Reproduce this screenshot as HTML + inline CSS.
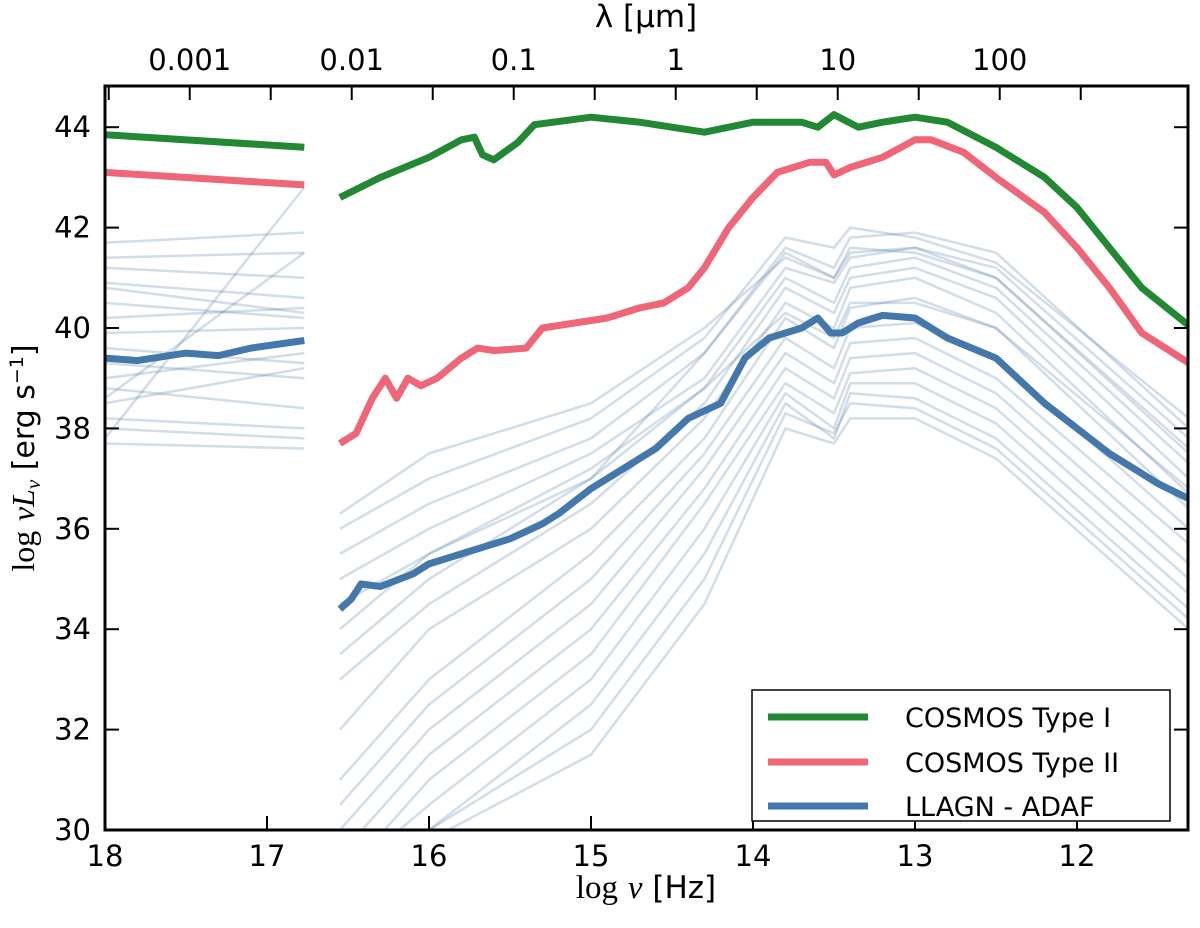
<!DOCTYPE html>
<html><head><meta charset="utf-8"><style>
body{margin:0;background:#fff}
text{font-family:"DejaVu Sans","Liberation Sans",sans-serif}
</style></head><body>
<svg id="chart" width="1200" height="923" xmlns="http://www.w3.org/2000/svg">
<defs><clipPath id="clip"><rect x="105" y="86" width="1083" height="744"/></clipPath></defs>
<g id="plot" clip-path="url(#clip)"></g>
<g id="axes"></g>
<text x="646" y="27" font-size="31" text-anchor="middle">λ [μm]</text>
<text x="646" y="898" font-size="31" text-anchor="middle"><tspan font-family="Liberation Serif" font-size="33">log</tspan> <tspan font-family="Liberation Serif" font-style="italic" font-size="33">ν</tspan> [Hz]</text>
<text transform="translate(34,458) rotate(-90)" font-size="30" text-anchor="middle"><tspan font-family="Liberation Serif" font-size="32">log</tspan> <tspan font-family="Liberation Serif" font-style="italic" font-size="32">νL</tspan><tspan font-family="Liberation Serif" font-style="italic" font-size="21" dy="6">ν</tspan><tspan dy="-6"> [erg s</tspan><tspan font-size="19" dy="-11">−1</tspan><tspan dy="11">]</tspan></text>
<g>
<rect x="752" y="690" width="418" height="131" fill="#fff" stroke="#000" stroke-width="1.5"/>
<line x1="768" x2="868" y1="717" y2="717" stroke="#228833" stroke-width="7"/>
<text x="905" y="727" font-size="27">COSMOS Type I</text>
<line x1="768" x2="868" y1="762" y2="762" stroke="#ee6677" stroke-width="7"/>
<text x="905" y="772" font-size="27">COSMOS Type II</text>
<line x1="768" x2="868" y1="806" y2="806" stroke="#4477aa" stroke-width="7"/>
<text x="905" y="816" font-size="27">LLAGN - ADAF</text>
</g>
</svg>
<script>
const greyFreqs=[16.55,16.0,15.0,14.3,13.8,13.5,13.4,13.0,12.5,11.31];
const greyRows=[
[35.5,36.5,37.8,39.5,41.6,41.2,41.8,41.9,41.5,38.0],
[36,37,38.2,39.8,41.8,41.6,42.0,41.8,41.3,38.2],
[35,36,37.5,39.0,41.2,40.9,41.4,41.6,41.0,37.6],
[34,35.5,37,38.8,41.0,40.5,41.2,41.4,40.8,37.3],
[33,34.5,36.5,38.5,40.8,40.3,41.0,41.2,40.6,37.0],
[32,34,36,38.2,40.5,40.0,40.8,41.0,40.3,36.7],
[31,33,35.5,37.8,40.2,39.6,40.4,40.6,40.0,36.4],
[30.5,32.5,35,37.5,39.8,39.2,40.0,40.1,39.4,36.0],
[30,32,34.5,37.2,39.5,38.9,39.7,39.8,39.0,35.7],
[29.5,31.5,34,36.8,39.2,38.6,39.4,39.5,38.7,35.3],
[29,31,33.5,36.5,38.9,38.3,39.1,39.2,38.4,35.0],
[29,30.5,33,36,38.7,38.0,38.9,38.9,38.1,34.7],
[29,30,32.5,35.5,38.5,37.8,38.7,38.6,37.8,34.4],
[29,30,32,35,38.3,37.9,38.5,38.4,37.6,34.2],
[29,29.8,31.5,34.5,38.0,37.7,38.2,38.2,37.4,34.0],
[33.5,35,37,39.5,41.5,41.0,41.5,41.6,41.2,37.8],
[36.3,37.5,38.5,40,41.4,41.0,41.6,41.5,41.0,37.5],
[34.5,35.5,37.2,38.8,40.3,39.8,40.5,40.5,40.0,36.8]];
const xrayFreqs=[18,16.77];
const xrayRows=[[41.7,41.9],[41.4,41.5],[41.2,41.0],[40.9,40.6],[40.8,40.3],[40.5,40.2],[40.2,40.4],[39.9,40.0],[39.6,39.3],[39.3,39.0],[39.0,39.5],[38.8,38.4],[38.5,39.2],[38.2,38.0],[38.0,37.8],[37.7,37.6],[37.8,42.8],[38.6,41.5]];
const greenX1=[18,16.77], greenY1=[43.85,43.6];
const greenX2=[16.55,16.3,16.0,15.8,15.72,15.67,15.6,15.45,15.35,15.0,14.7,14.3,14.0,13.7,13.6,13.5,13.35,13.2,13.0,12.8,12.5,12.2,12.0,11.8,11.6,11.31];
const greenY2=[42.6,43.0,43.4,43.75,43.8,43.45,43.35,43.7,44.05,44.2,44.1,43.9,44.1,44.1,44.0,44.25,44.0,44.1,44.2,44.1,43.6,43.0,42.4,41.6,40.8,40.05];
const redX1=[18,16.77], redY1=[43.1,42.85];
const redX2=[16.55,16.45,16.35,16.27,16.2,16.13,16.05,15.95,15.8,15.7,15.6,15.4,15.3,15.1,14.9,14.7,14.55,14.4,14.3,14.15,14.0,13.85,13.65,13.55,13.5,13.4,13.2,13.0,12.9,12.7,12.5,12.2,12.0,11.8,11.6,11.31];
const redY2=[37.7,37.9,38.6,39.0,38.6,39.0,38.85,39.0,39.4,39.6,39.55,39.6,40.0,40.1,40.2,40.4,40.5,40.8,41.2,42.0,42.6,43.1,43.3,43.3,43.05,43.2,43.4,43.75,43.75,43.5,43.0,42.3,41.6,40.8,39.9,39.3];
const blueX1=[18,17.8,17.5,17.3,17.1,16.77], blueY1=[39.4,39.35,39.5,39.45,39.6,39.75];
const blueX2=[16.55,16.48,16.42,16.3,16.1,16.0,15.8,15.5,15.3,15.2,15.0,14.8,14.6,14.4,14.2,14.05,13.9,13.7,13.6,13.52,13.45,13.35,13.2,13.0,12.8,12.5,12.2,12.0,11.8,11.5,11.31];
const blueY2=[34.4,34.6,34.9,34.85,35.1,35.3,35.5,35.8,36.1,36.3,36.8,37.2,37.6,38.2,38.5,39.4,39.8,40.0,40.2,39.9,39.9,40.1,40.25,40.2,39.8,39.4,38.5,38.0,37.5,36.9,36.6];
const xTicks=[18,17,16,15,14,13,12];
const yTicks=[30,32,34,36,38,40,42,44];
const topTicks=["0.001","0.01","0.1","1","10","100"];

const L=105,R=1188,T=86,B=830;
const X=v=>105+(18-v)*162;
const Y=v=>830-(v-30)*50.2;
const NS="http://www.w3.org/2000/svg";
const plot=document.getElementById('plot'), axes=document.getElementById('axes');
function el(tag,attrs,parent){const e=document.createElementNS(NS,tag);for(const k in attrs)e.setAttribute(k,attrs[k]);parent.appendChild(e);return e;}
function line(xs,ys,color,w,op,name){
  const d=xs.map((x,i)=>(i?'L':'M')+X(x).toFixed(1)+','+Y(ys[i]).toFixed(1)).join('');
  const p=el('path',{d:d,fill:'none',stroke:color,'stroke-width':w,'stroke-opacity':op,'stroke-linejoin':'round'},plot);
  
  
}
greyRows.forEach(r=>line(greyFreqs,r,'#5b84b1',2.5,0.28,'llagn-faint-curve'));
xrayRows.forEach(r=>line(xrayFreqs,r,'#5b84b1',2.5,0.28,'llagn-faint-xray'));
line(greenX1,greenY1,'#228833',7,1,'cosmos-type1-xray');
line(greenX2,greenY2,'#228833',7,1,'cosmos-type1-curve');
line(redX1,redY1,'#ee6677',7,1,'cosmos-type2-xray');
line(redX2,redY2,'#ee6677',7,1,'cosmos-type2-curve');
line(blueX1,blueY1,'#4477aa',7,1,'llagn-adaf-xray');
line(blueX2,blueY2,'#4477aa',7,1,'llagn-adaf-curve');

const fr=el('rect',{x:L,y:T,width:R-L,height:B-T,fill:'none',stroke:'#000','stroke-width':3},axes);


xTicks.forEach(v=>{
  const x=X(v);
  el('line',{x1:x,x2:x,y1:B,y2:B-14,stroke:'#000','stroke-width':2},axes);
  const t=el('text',{x:x,y:B+36,'font-size':29,'text-anchor':'middle'},axes);t.textContent=v;
  
  
});
yTicks.forEach(v=>{
  const y=Y(v);
  el('line',{x1:L,x2:L+14,y1:y,y2:y,stroke:'#000','stroke-width':2},axes);
  el('line',{x1:R,x2:R-14,y1:y,y2:y,stroke:'#000','stroke-width':2},axes);
  const t=el('text',{x:L-14,y:y+10,'font-size':29,'text-anchor':'end'},axes);t.textContent=v;
  
  
});
for(let k=-3.5;k<=2.5;k+=0.5){
  const nu=14.477-k; const x=X(nu);
  if(x<L||x>R)continue;
  el('line',{x1:x,x2:x,y1:T,y2:T+14,stroke:'#000','stroke-width':2},axes);
}
topTicks.forEach(s=>{
  const x=X(14.477-Math.log10(parseFloat(s)));
  const t=el('text',{x:x,y:T-16,'font-size':29,'text-anchor':'middle'},axes);t.textContent=s;
  
  
});
</script>
</body></html>
